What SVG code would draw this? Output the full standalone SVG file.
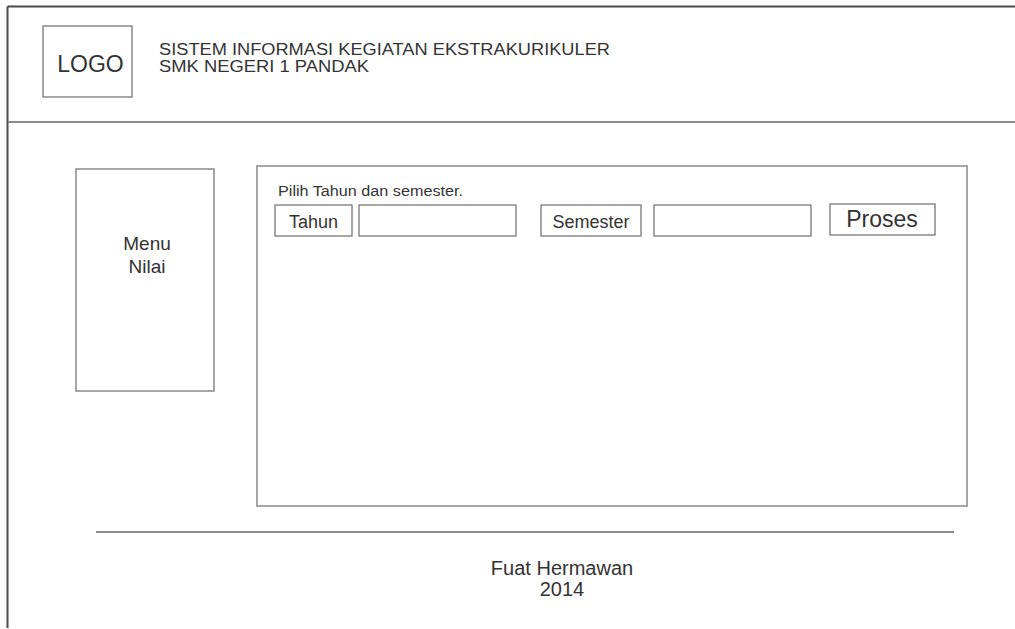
<svg xmlns="http://www.w3.org/2000/svg" width="1015" height="629" viewBox="0 0 1015 629">
  <style>
    .frame { fill: none; stroke: #4a4a4a; stroke-width: 2; }
    .rule { fill: none; stroke: #8a8a8a; stroke-width: 2; }
    .box { fill: #ffffff; stroke: #777777; stroke-width: 1.3; }
    .txt { font-family: "Liberation Sans", Arial, sans-serif; fill: #333333; }
    .mid { text-anchor: middle; }
  </style>
  <rect width="1015" height="629" fill="#ffffff"/>

  <!-- page frame -->
  <g id="frame">
    <line class="frame" x1="7.5" y1="6.5" x2="1015" y2="6.5"/>
    <line class="frame" x1="7.5" y1="6.5" x2="7.5" y2="628"/>
    <line class="rule" x1="8" y1="122" x2="1015" y2="122"/>
  </g>

  <!-- header -->
  <g id="logo">
    <rect class="box" x="43" y="26" width="89" height="71"/>
    <text class="txt mid" x="90.5" y="72" font-size="23">LOGO</text>
  </g>
  <g id="title">
    <text class="txt" x="159" y="55" font-size="16" textLength="451" lengthAdjust="spacingAndGlyphs">SISTEM INFORMASI KEGIATAN EKSTRAKURIKULER</text>
    <text class="txt" x="159" y="72" font-size="16" textLength="210" lengthAdjust="spacingAndGlyphs">SMK NEGERI 1 PANDAK</text>
  </g>

  <!-- side menu -->
  <g id="menu">
    <rect class="box" x="76" y="169" width="138" height="222"/>
    <text class="txt mid" x="147" y="250" font-size="19">Menu</text>
    <text class="txt mid" x="147" y="273" font-size="19">Nilai</text>
  </g>

  <!-- content panel -->
  <g id="panel">
    <rect class="box" x="257" y="166" width="710" height="340"/>
    <text class="txt" x="278" y="196" font-size="14" textLength="185" lengthAdjust="spacingAndGlyphs">Pilih Tahun dan semester.</text>
  </g>
  <g id="label-tahun">
    <rect class="box" x="275" y="205" width="77" height="31"/>
    <text class="txt mid" x="313.5" y="228" font-size="18">Tahun</text>
  </g>
  <g id="input-tahun">
    <rect class="box" x="359" y="205" width="157" height="31"/>
  </g>
  <g id="label-semester">
    <rect class="box" x="541" y="205" width="100" height="31"/>
    <text class="txt mid" x="591" y="228" font-size="18">Semester</text>
  </g>
  <g id="input-semester">
    <rect class="box" x="654" y="205" width="157" height="31"/>
  </g>
  <g id="btn-proses">
    <rect class="box" x="830" y="204" width="105" height="31"/>
    <text class="txt mid" x="882" y="227" font-size="23">Proses</text>
  </g>

  <!-- footer -->
  <g id="footer">
    <line class="rule" x1="96" y1="532" x2="954" y2="532" stroke-width="1.5"/>
    <text class="txt mid" x="562" y="575" font-size="20">Fuat Hermawan</text>
    <text class="txt mid" x="562" y="596" font-size="20">2014</text>
  </g>

  <g id="connectors"/>
</svg>
